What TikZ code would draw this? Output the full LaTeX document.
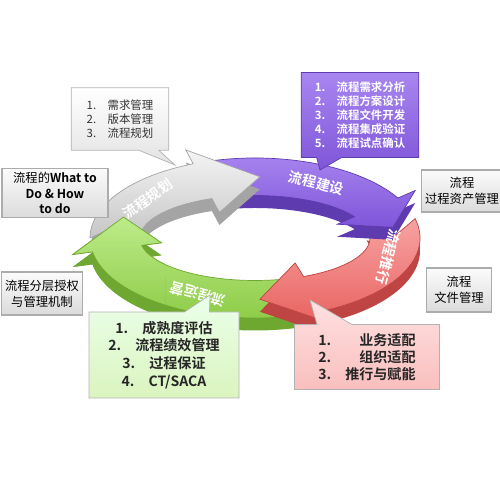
\documentclass[tikz,border=0pt]{standalone}
\usepackage{fontspec}
\setmainfont{Noto Sans CJK SC}[BoldFont={Noto Sans CJK SC Bold}]
\usepackage{tikz}
\usepackage{xcolor}
\usetikzlibrary{
  shapes.callouts
}
\definecolor{greenA}{HTML}{BDEB8A}
\definecolor{greenB}{HTML}{8CCB45}
\definecolor{greenS}{HTML}{6FA830}
\definecolor{redA}{HTML}{F7A3A3}
\definecolor{redB}{HTML}{E8625F}
\definecolor{redS}{HTML}{BF4444}
\definecolor{purpA}{HTML}{A886F0}
\definecolor{purpB}{HTML}{7F55D9}
\definecolor{purpS}{HTML}{5F3BB0}
\definecolor{grayA}{HTML}{F4F4F4}
\definecolor{grayB}{HTML}{C6C6C6}
\definecolor{grayS}{HTML}{A4A4A4}
% one arrow of the ring: tail, head base, tip (parametric angles)
\newcommand\ringpath[3]{
  (#1:3.3 and 1.6) arc [start angle=#1, end angle=#2, x radius=3.3, y radius=1.6]
  -- (#2:3.7 and 1.9) -- (#3:2.8 and 1.225) -- (#2:1.9 and 0.55)
  -- (#2:2.3 and 0.85) arc [start angle=#2, end angle=#1, x radius=2.3, y radius=0.85]
  -- ({#1-12}:2.8 and 1.225) -- cycle
}
\tikzset{
  pics/ringarrow/.style n args = {6}{
    code = {
      \fill [#6, yshift=-0.25cm] \ringpath{#1}{#2}{#3};
      \path [top color=#4, bottom color=#5, draw=#6, line width=0.4pt] \ringpath{#1}{#2}{#3};
    }
  },
  lbl/.style = {
    text=white, font=\bfseries\fontsize{8}{9}\selectfont
  },
  side/.style = {
    rectangle, draw=gray!65, line width=1pt, top color=gray!3, bottom color=gray!28,
    align=center, inner sep=2pt, font=\fontsize{7}{9}\selectfont
  },
  note/.style = {
    rectangle callout, align=left, inner sep=3pt
  }
}
\begin{document}
\begin{tikzpicture}
  \useasboundingbox (0,0) rectangle (10,10);
  \coordinate (ring) at (5.1,5.24);
  % ring
  \pic at (ring) {ringarrow={290}{190}{160}{greenA}{greenB}{greenS}};
  \pic at (ring) {ringarrow={14}{-65}{-88}{redA}{redB}{redS}};
  \pic at (ring) {ringarrow={105}{30}{10}{purpA}{purpB}{purpS}};
  \pic at (ring) {ringarrow={180}{112}{88}{grayA}{grayB}{grayS}};
  \begin{scope}
    \clip (0,0) rectangle (3.3,10);
    \pic at (ring) {ringarrow={290}{190}{160}{greenA}{greenB}{greenS}};
  \end{scope}
  \path
    (ring) ++(140:2.8 and 1.225) node [lbl, rotate=35] (plan) {流程规划}
    (ring) ++(64:2.8 and 1.225) node [lbl, rotate=-14] (build) {流程建设}
    (ring) ++(-18:2.8 and 1.225) node [lbl, rotate=-105] (push) {流程推行}
    (ring) ++(-114:2.8 and 1.225) node [lbl, rotate=165] (run) {流程运营};
  % callouts
  \coordinate (plantip) at (3.5,6.7);
  \coordinate (buildtip) at (6.4,6.6);
  \coordinate (runtip) at (4.2,4.1);
  \coordinate (pushtip) at (6.2,4.0);
  \node [note, top color=white, bottom color=gray!22, draw=gray!60,
    callout absolute pointer={(plantip)}, callout pointer width=0.4cm,
    minimum width=1.95cm, minimum height=1.25cm, text=black!80,
    font=\fontsize{6.5}{8}\selectfont] (plannote) at (2.4,7.62)
    {1.\quad 需求管理\\2.\quad 版本管理\\3.\quad 流程规划};
  \node [note, top color=purpA, bottom color=purpB, draw=purpS,
    callout absolute pointer={(buildtip)}, callout pointer width=0.5cm,
    minimum width=2.35cm, minimum height=1.7cm, text=white,
    font=\bfseries\fontsize{6.5}{8}\selectfont] (buildnote) at (7.2,7.7)
    {1.\quad 流程需求分析\\2.\quad 流程方案设计\\3.\quad 流程文件开发\\4.\quad 流程集成验证\\5.\quad 流程试点确认};
  \node [note, align=center, top color=green!8, bottom color=greenA!55, draw=gray!60,
    callout absolute pointer={(runtip)}, callout pointer width=0.5cm,
    minimum width=3.0cm, minimum height=1.72cm, text=black!85,
    font=\bfseries\fontsize{8}{10}\selectfont] (runnote) at (3.28,2.9)
    {1.\quad 成熟度评估\\2.\quad 流程绩效管理\\3.\quad 过程保证\\4.\quad CT/SACA};
  \node [note, top color=red!12, bottom color=redA!70, draw=gray!60,
    callout absolute pointer={(pushtip)}, callout pointer width=0.7cm,
    minimum width=2.9cm, minimum height=1.3cm, text=black!85,
    font=\bfseries\fontsize{8}{9.7}\selectfont] (pushnote) at (7.34,2.86)
    {1.\qquad 业务适配\\2.\qquad 组织适配\\3.\quad 推行与赋能};
  % side boxes
  \node [side, minimum width=2.12cm, minimum height=0.92cm] (whatbox) at (1.1,6.14)
    {流程的\textbf{What to}\\\textbf{Do \& How}\\\textbf{to do}};
  \node [side, minimum width=1.5cm, minimum height=0.85cm] (assetbox) at (9.24,6.18)
    {流程\\过程资产管理};
  \node [side, minimum width=1.6cm, minimum height=0.86cm] (authbox) at (0.84,4.13)
    {流程分层授权\\与管理机制};
  \node [side, minimum width=1.3cm, minimum height=0.88cm] (filebox) at (9.18,4.2)
    {流程\\文件管理};
\end{tikzpicture}
\end{document}
